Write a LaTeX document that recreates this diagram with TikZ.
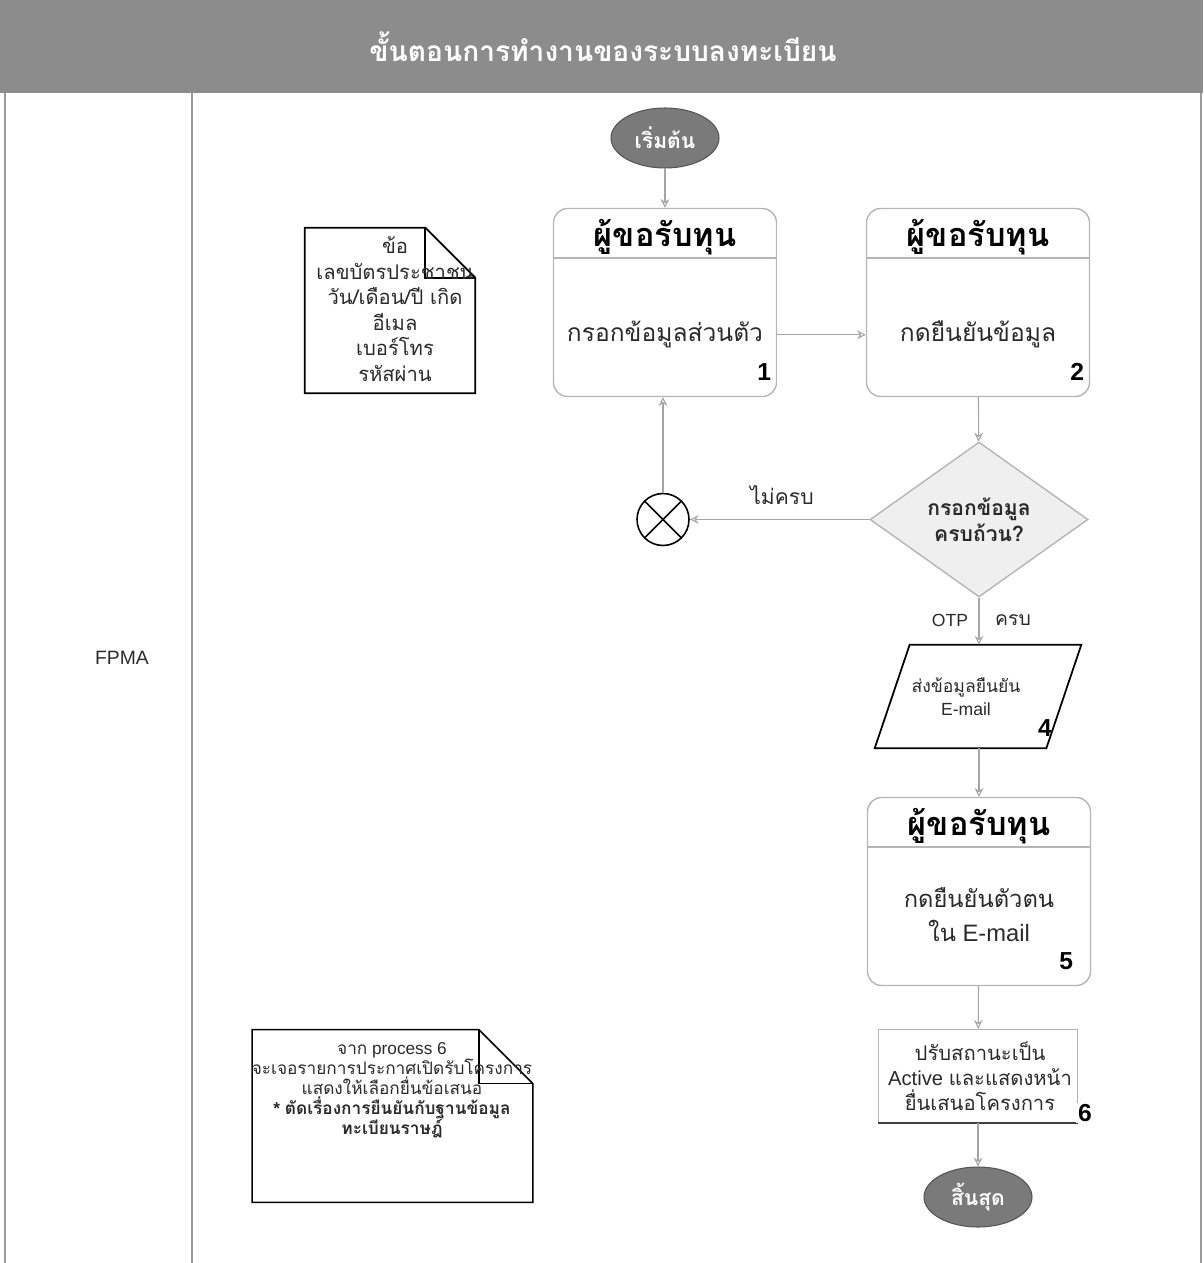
\documentclass[tikz,border=0pt]{standalone}
\usepackage{fontspec}
\setmainfont{Liberation Sans}
\newfontfamily\thaifont[Script=Thai]{Loma}
\usetikzlibrary{arrows.meta,calc,shapes.geometric}
\newcommand\tha[1]{{\thaifont #1}}

\definecolor{bandgray}{HTML}{8C8C8C}
\definecolor{ovalgray}{HTML}{7A7A7A}
\definecolor{boxline}{HTML}{B5B5B5}
\definecolor{flowline}{HTML}{A5A5A5}
\definecolor{lanegray}{HTML}{9A9A9A}
\definecolor{decfill}{HTML}{EFEFEF}
\definecolor{inkgray}{HTML}{2A2A2A}

\begin{document}
\begin{tikzpicture}[x=0.02cm, y=-0.02cm,
  terminal/.style={ellipse, fill=ovalgray, draw=ovalgray!70!black, line width=0.6pt,
    minimum width=2.16cm, minimum height=1.2cm, inner sep=0pt,
    font=\thaifont\bfseries\fontsize{12}{14}\selectfont, text=white},
  procbox/.style={draw=boxline, line width=0.8pt, rounded corners=0.28cm,
    minimum width=4.46cm, minimum height=3.76cm, inner sep=0pt},
  proctitle/.style={font=\thaifont\bfseries\fontsize{18.5}{22}\selectfont, text=black, inner sep=0pt},
  procbody/.style={font=\thaifont\fontsize{14}{19}\selectfont, text=inkgray, align=center, inner sep=0pt},
  stepnum/.style={font=\bfseries\fontsize{14}{16}\selectfont, text=black, inner sep=0pt},
  decision/.style={diamond, draw=boxline, fill=decfill, line width=0.8pt,
    minimum width=4.36cm, minimum height=3.1cm, inner sep=0pt,
    font=\thaifont\bfseries\fontsize{12}{15}\selectfont, text=inkgray, align=center},
  flow/.style={draw=flowline, line width=0.6pt, -{Stealth[open, length=5pt, width=5pt]}},
  lane/.style={draw=lanegray, line width=0.6pt},
  notebox/.style={inner sep=0pt, draw=none},
  notetext/.style={font=\thaifont\fontsize{11.5}{14.5}\selectfont, text=inkgray, align=center, inner sep=0pt},
  flowlabel/.style={font=\fontsize{10}{12}\selectfont, text=inkgray, inner sep=0pt}
]
\useasboundingbox (0,0) rectangle (1203,1263);

% title band and swimlane frame
\fill[bandgray] (0,0) rectangle (1203,93);
\node[font=\thaifont\bfseries\fontsize{16}{18}\selectfont, text=white] (title) at (603,47)
  {ขั้นตอนการทำงานของระบบลงทะเบียน};
\draw[lane] (5,93) -- (5,1263);
\draw[lane] (192,93) -- (192,1263);
\draw[lane] (1201,93) -- (1201,1263);
\node[font=\fontsize{11}{13}\selectfont, text=inkgray] (lanename) at (122,658) {FPMA};

% start
\node[terminal] (start) at (665,138) {เริ่มต้น};

% step 1
\node[procbox] (b1) at (665,302.5) {};
\draw[boxline, line width=0.8pt] ($(b1.north west)+(0,50)$) -- ($(b1.north east)+(0,50)$);
\node[proctitle] (b1t) at ($(b1.north)+(0,29)$) {ผู้ขอรับทุน};
\node[procbody] (b1b) at ($(b1.north)+(0,127)$) {กรอกข้อมูลส่วนตัว};
\node[stepnum] (b1n) at ($(b1.south east)+(-13,-25)$) {1};

% step 2
\node[procbox] (b2) at (978,302.5) {};
\draw[boxline, line width=0.8pt] ($(b2.north west)+(0,50)$) -- ($(b2.north east)+(0,50)$);
\node[proctitle] (b2t) at ($(b2.north)+(0,29)$) {ผู้ขอรับทุน};
\node[procbody] (b2b) at ($(b2.north)+(0,127)$) {กดยืนยันข้อมูล};
\node[stepnum] (b2n) at ($(b2.south east)+(-13,-25)$) {2};

% input data note
\node[notebox, minimum width=3.4cm, minimum height=3.3cm] (d1) at (390,310.5) {};
\draw[black, line width=1pt] (d1.north west) -- ($(d1.north east)+(-50,0)$) -- ($(d1.north east)+(0,50)$)
  -- (d1.south east) -- (d1.south west) -- cycle;
\draw[black, line width=1pt] ($(d1.north east)+(-50,0)$) -- ($(d1.north east)+(-50,50)$) -- ($(d1.north east)+(0,50)$);
\node[notetext] (d1t) at (395,309)
  {ข้อ\\เลขบัตรประชาชน\\วัน/เดือน/ปี เกิด\\อีเมล\\เบอร์โทร\\รหัสผ่าน};

% decision and rejection
\node[decision] (dec) at (979,519.5) {กรอกข้อมูล\\ครบถ้วน?};
\node[circle, draw=black, line width=0.9pt, minimum size=1.04cm, inner sep=0pt] (xc) at (663,519.5) {};
\draw[black, line width=0.9pt] (xc.north west) -- (xc.south east) (xc.north east) -- (xc.south west);

% step 4: send confirmation e-mail
\node[notebox, minimum width=3.42cm, minimum height=2.06cm] (p4) at (978,696.5) {};
\draw[black, line width=1pt] ($(p4.north west)+(17.5,0)$) -- ($(p4.north east)+(17.5,0)$)
  -- ($(p4.south east)+(-17.5,0)$) -- ($(p4.south west)+(-17.5,0)$) -- cycle;
\node[font=\fontsize{10}{13}\selectfont, text=inkgray, align=center, inner sep=0pt] (p4t) at (966,697)
  {\tha{ส่งข้อมูลยืนยัน}\\E-mail};
\node[stepnum] (p4n) at (1045,728) {4};

% step 5
\node[procbox] (b5) at (979,891.5) {};
\draw[boxline, line width=0.8pt] ($(b5.north west)+(0,50)$) -- ($(b5.north east)+(0,50)$);
\node[proctitle] (b5t) at ($(b5.north)+(0,29)$) {ผู้ขอรับทุน};
\node[procbody, font=\fontsize{13.5}{19}\selectfont] (b5b) at ($(b5.north)+(0,118)$)
  {\tha{กดยืนยันตัวตน}\\\tha{ใน} E-mail};
\node[stepnum] (b5n) at ($(b5.south east)+(-25,-25)$) {5};

% step 6
\node[draw=boxline, line width=0.8pt, minimum width=3.98cm, minimum height=1.86cm, inner sep=0pt] (b6) at (978,1076) {};
\draw[black!75, line width=1pt] (b6.south west) -- (b6.south east);
\node[font=\fontsize{11.5}{14.2}\selectfont, text=inkgray, align=center, inner sep=0pt] (b6t) at (980,1076.5)
  {\tha{ปรับสถานะเป็น}\\Active \tha{และแสดงหน้า}\\\tha{ยื่นเสนอโครงการ}};
\node[stepnum, fill=white, inner sep=1pt] (b6n) at (1085,1113) {6};

% end
\node[terminal] (finish) at (978,1197) {สิ้นสุด};

% remark note
\node[notebox, minimum width=5.6cm, minimum height=3.44cm] (d2) at (392.5,1116) {};
\draw[black, line width=0.9pt] (d2.north west) -- ($(d2.north east)+(-54,0)$) -- ($(d2.north east)+(0,54)$)
  -- (d2.south east) -- (d2.south west) -- cycle;
\draw[black, line width=0.9pt] ($(d2.north east)+(-54,0)$) -- ($(d2.north east)+(-54,54)$) -- ($(d2.north east)+(0,54)$);
\node[notetext, font=\fontsize{9.8}{11.4}\selectfont] (d2t) at (392,1090)
  {\tha{จาก} process 6\\\tha{จะเจอรายการประกาศเปิดรับโครงการ}\\\tha{แสดงให้เลือกยื่นข้อเสนอ}\\
   \textbf{* \tha{ตัดเรื่องการยืนยันกับฐานข้อมูล}}\\\textbf{\tha{ทะเบียนราษฎ์}}};

% connectors
\draw[flow] (start) -- (b1);
\draw[flow] (b1.east |- b1b) -- (b2.west |- b1b);
\draw[flow] (b2) -- (dec);
\draw[flow] (dec.west) -- (xc.east);
\node[font=\thaifont\fontsize{12}{14}\selectfont, text=inkgray] (nolbl) at (782,495) {ไม่ครบ};
\draw[flow] (xc.north) -- (xc.north |- b1.south);
\draw[flow] (dec.south) -- (dec.south |- p4.north);
\node[flowlabel] (otplbl) at (950,620) {OTP};
\node[font=\thaifont\fontsize{11}{13}\selectfont, text=inkgray] (yeslbl) at (1013,620) {ครบ};
\draw[flow] (b5.north |- p4.south) -- (b5.north);
\draw[flow] (b5) -- (b6);
\draw[flow] (b6) -- (finish);
\end{tikzpicture}
\end{document}
